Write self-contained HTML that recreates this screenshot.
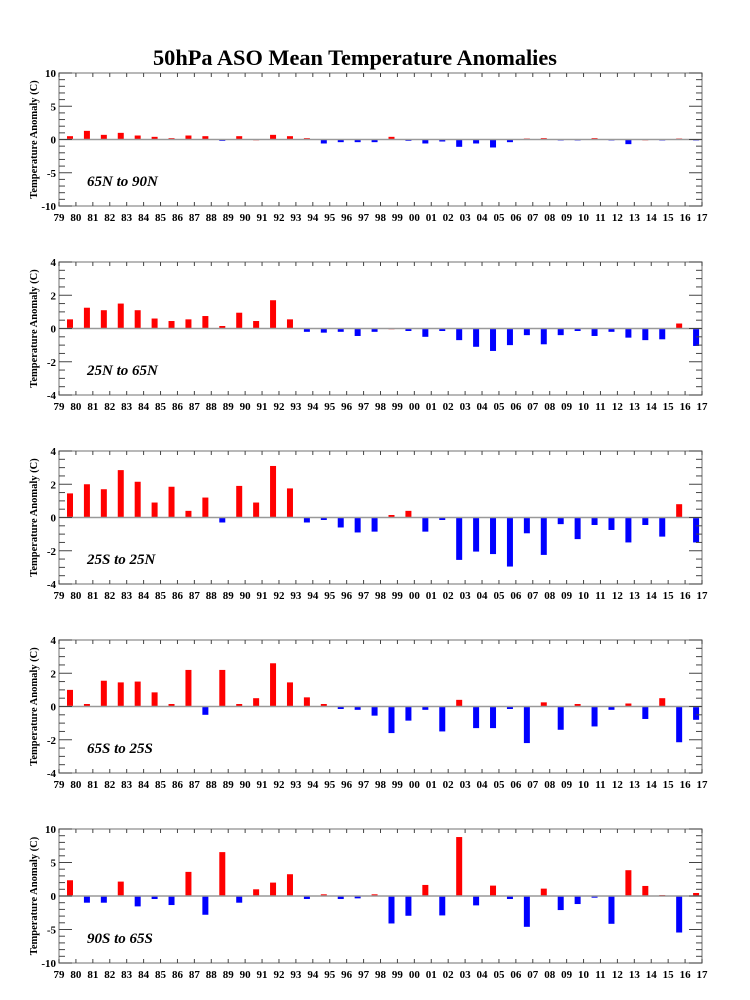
<!DOCTYPE html>
<html><head><meta charset="utf-8"><style>
body{margin:0;background:#fff;}
svg{display:block;font-family:"Liberation Serif",serif;}
</style></head><body>
<svg id="chart" width="750" height="1000" viewBox="0 0 750 1000" xmlns="http://www.w3.org/2000/svg">
<rect x="0" y="0" width="750" height="1000" fill="#fff"/>
<text x="355" y="65" text-anchor="middle" font-size="22" font-weight="bold" textLength="404" lengthAdjust="spacingAndGlyphs">50hPa ASO Mean Temperature Anomalies</text>
</svg>
<script>
const yearLabels = ["79","80","81","82","83","84","85","86","87","88","89","90","91","92","93","94","95","96","97","98","99","00","01","02","03","04","05","06","07","08","09","10","11","12","13","14","15","16","17"];
const regionNames = ["65N to 90N","25N to 65N","25S to 25N","65S to 25S","90S to 65S"];
const series65N90N = [0.5,1.3,0.7,1.0,0.6,0.4,0.2,0.6,0.5,-0.2,0.5,0,0.7,0.5,0.2,-0.6,-0.4,-0.4,-0.4,0.4,-0.2,-0.6,-0.3,-1.1,-0.6,-1.2,-0.4,0.15,0.2,-0.15,-0.15,0.2,-0.15,-0.7,0,-0.15,0.15,-0.15];
const series25N65N = [0.55,1.25,1.1,1.5,1.1,0.6,0.45,0.55,0.75,0.15,0.95,0.45,1.7,0.55,-0.2,-0.25,-0.2,-0.45,-0.2,0,-0.15,-0.5,-0.15,-0.7,-1.1,-1.35,-1.0,-0.4,-0.95,-0.4,-0.15,-0.45,-0.2,-0.55,-0.7,-0.65,0.3,-1.05];
const series25S25N = [1.45,2.0,1.7,2.85,2.15,0.9,1.85,0.4,1.2,-0.3,1.9,0.9,3.1,1.75,-0.3,-0.15,-0.6,-0.9,-0.85,0.15,0.4,-0.85,-0.15,-2.55,-2.05,-2.2,-2.95,-0.95,-2.25,-0.4,-1.3,-0.45,-0.75,-1.5,-0.45,-1.15,0.8,-1.5];
const series65S25S = [1.0,0.15,1.55,1.45,1.5,0.85,0.15,2.2,-0.5,2.2,0.15,0.5,2.6,1.45,0.55,0.15,-0.15,-0.2,-0.55,-1.6,-0.85,-0.2,-1.5,0.4,-1.3,-1.3,-0.15,-2.2,0.25,-1.4,0.15,-1.2,-0.2,0.18,-0.75,0.5,-2.15,-0.8];
const series90S65S = [2.35,-1.0,-1.0,2.15,-1.55,-0.45,-1.35,3.6,-2.8,6.55,-1.0,1.0,2.0,3.25,-0.45,0.25,-0.45,-0.35,0.25,-4.1,-2.95,1.65,-2.9,8.8,-1.4,1.55,-0.45,-4.6,1.1,-2.1,-1.2,-0.25,-4.15,3.85,1.5,0.15,-5.45,0.45];
const allSeries = [series65N90N,series25N65N,series25S25N,series65S25S,series90S65S];
const yMaxes = [10,4,4,4,10];
const yMajorSteps = [5,2,2,2,5];
const yMinorSteps = [1,0.5,0.5,0.5,1];

const NS="http://www.w3.org/2000/svg";
const svg=document.getElementById('chart');
function mk(tag,attrs,parent){const e=document.createElementNS(NS,tag);for(const k in attrs)e.setAttribute(k,attrs[k]);(parent||svg).appendChild(e);return e;}
const X0=59,X1=702;
const frames=[[73,206],[262,395],[451,584],[640,773],[829,963]];
const yearStep=(X1-X0)/(yearLabels.length-1);
function xScale(i){return X0+i*yearStep;}

for(let p=0;p<5;p++){
  const [T,B]=frames[p];
  const g=mk('g',{});
  
  
  const ymax=yMaxes[p];
  const yScale=v=>(T+B)/2 - v*(B-T)/(2*ymax);
  // bars
  const data=allSeries[p];
  data.forEach((v,i)=>{
    const cx=xScale(i+0.65);
    const y0=yScale(0),y1=yScale(v);
    const r=mk('rect',{x:cx-3,y:Math.min(y0,y1),width:6,height:Math.max(0.8,Math.abs(y1-y0)),fill:v>=0?'#ff0000':'#0000ff'},g);
    
    
  });
  // zero line
  const zl=mk('line',{x1:X0,x2:X1,y1:yScale(0),y2:yScale(0),stroke:'#999','stroke-width':1.5},g);
  
  
  // frame
  const fr=mk('rect',{x:X0,y:T,width:X1-X0,height:B-T,fill:'none',stroke:'#888','stroke-width':1.2},g);
  
  
  // x ticks and labels
  yearLabels.forEach((lab,i)=>{
    const x=xScale(i);
    mk('line',{x1:x,x2:x,y1:T,y2:T+4,stroke:'#444','stroke-width':1},g);
    mk('line',{x1:x,x2:x,y1:B,y2:B-4,stroke:'#444','stroke-width':1},g);
    const t=mk('text',{x:x,y:B+15,'text-anchor':'middle','font-size':11,'font-weight':'bold'},g);
    t.textContent=lab;
    
    
  });
  // y ticks
  const mn=yMinorSteps[p],mj=yMajorSteps[p];
  const n=Math.round(ymax/mn);
  for(let k=-n;k<=n;k++){
    const v=k*mn;const y=yScale(v);
    const major=Math.abs(v/mj-Math.round(v/mj))<1e-6;
    const len=major?13:6;
    mk('line',{x1:X0,x2:X0+len,y1:y,y2:y,stroke:'#444','stroke-width':1},g);
    mk('line',{x1:X1,x2:X1-len,y1:y,y2:y,stroke:'#444','stroke-width':1},g);
    if(major){
      const t=mk('text',{x:X0-3,y:y+4,'text-anchor':'end','font-size':11,'font-weight':'bold'},g);
      t.textContent=String(v);
      
      
    }
  }
  // y title
  const cy=(T+B)/2;
  const yt=mk('text',{x:0,y:0,transform:'translate(37,'+cy+') rotate(-90)','text-anchor':'middle','font-size':10.5,'font-weight':'bold'},g);
  yt.textContent='Temperature Anomaly (C)';
  
  
  // region label
  const rl=mk('text',{x:87,y:B-20,'font-size':15,'font-weight':'bold','font-style':'italic'},g);
  rl.textContent=regionNames[p];
  
  
}
</script>
</body></html>
